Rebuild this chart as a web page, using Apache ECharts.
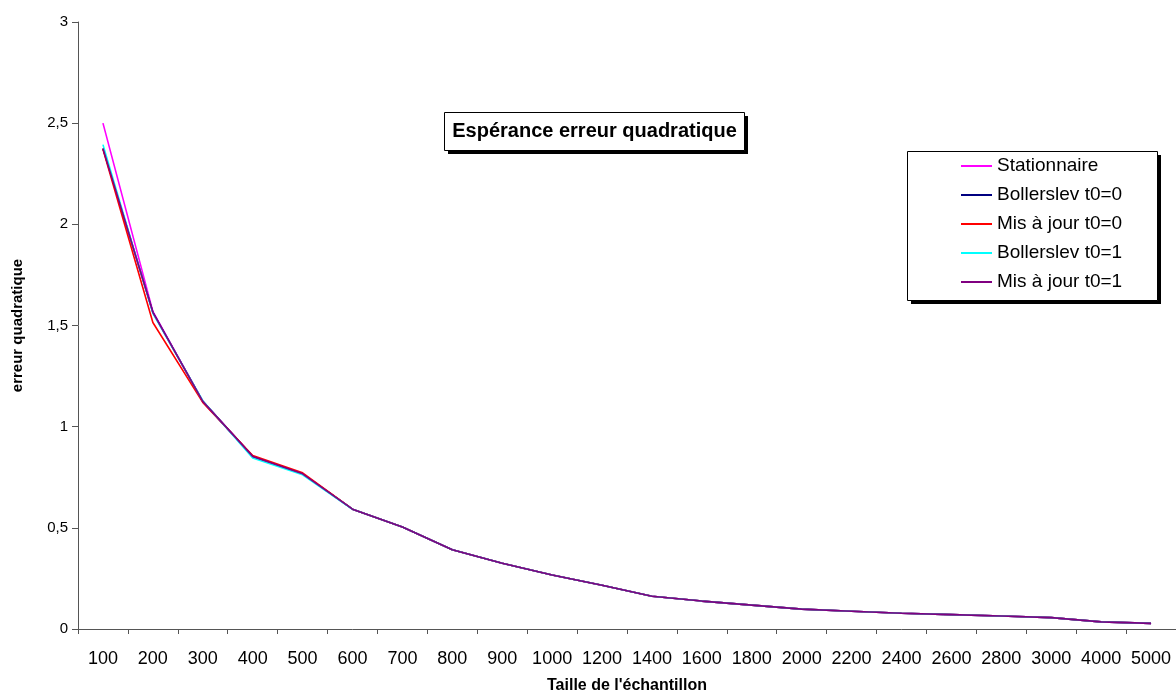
<!DOCTYPE html>
<html>
<head>
<meta charset="utf-8">
<script src="https://cdn.jsdelivr.net/npm/echarts@6/dist/echarts.min.js"></script>
<style>
  html, body { margin: 0; padding: 0; background: #fff; }
  #chart { width: 1176px; height: 699px; }
</style>
</head>
<body>
<div id="chart"></div>
<script>
const categories = ['100', '200', '300', '400', '500', '600', '700', '800', '900', '1000',
  '1200', '1400', '1600', '1800', '2000', '2200', '2400', '2600', '2800', '3000', '4000', '5000']
const yTicks = [0, 0.5, 1, 1.5, 2, 2.5, 3]

const stationnaire = [2.50, 1.57, 1.125, 0.853, 0.767, 0.592, 0.504, 0.392, 0.325, 0.267, 0.216, 0.162, 0.138, 0.118, 0.098, 0.088, 0.078, 0.071, 0.064, 0.056, 0.035, 0.028]
const bollerslev0 = [2.375, 1.565, 1.125, 0.853, 0.767, 0.592, 0.504, 0.392, 0.325, 0.267, 0.216, 0.162, 0.138, 0.118, 0.098, 0.088, 0.078, 0.071, 0.064, 0.056, 0.035, 0.028]
const misAJour0 = [2.371, 1.515, 1.12, 0.857, 0.772, 0.592, 0.504, 0.392, 0.325, 0.267, 0.216, 0.162, 0.138, 0.118, 0.098, 0.088, 0.078, 0.071, 0.064, 0.056, 0.035, 0.028]
const bollerslev1 = [2.394, 1.56, 1.128, 0.845, 0.762, 0.592, 0.504, 0.392, 0.325, 0.267, 0.216, 0.162, 0.138, 0.118, 0.098, 0.088, 0.078, 0.071, 0.064, 0.056, 0.035, 0.028]
const misAJour1 = [2.375, 1.565, 1.125, 0.853, 0.767, 0.592, 0.504, 0.392, 0.325, 0.267, 0.216, 0.162, 0.138, 0.118, 0.098, 0.088, 0.078, 0.071, 0.064, 0.056, 0.035, 0.028]

const font = 'Liberation Sans, Arial, sans-serif'

function line(name, data, color) {
  return {
    name, type: 'line', data,
    symbol: 'none',
    lineStyle: { color, width: 1.6 },
    itemStyle: { color },
    animation: false
  }
}

const myChart = echarts.init(document.getElementById('chart'))
myChart.setOption({
  backgroundColor: '#fff',
  textStyle: { fontFamily: font },
  graphic: [
    // title box with shadow
    { type: 'rect', shape: { x: 448, y: 116, width: 300, height: 38 }, style: { fill: '#000' }, z: 0 },
    { type: 'rect', shape: { x: 444.5, y: 112.5, width: 300, height: 38 }, style: { fill: '#fff', stroke: '#000', lineWidth: 1 }, z: 1 },
    {
      type: 'text', x: 594.5, y: 131.5, z: 2,
      style: { text: 'Espérance erreur quadratique', font: 'bold 20px Liberation Sans, Arial, sans-serif', fill: '#000', align: 'center', verticalAlign: 'middle' }
    },
    // legend box with shadow
    { type: 'rect', shape: { x: 911, y: 155, width: 250, height: 149 }, style: { fill: '#000' }, z: 0 },
    { type: 'rect', shape: { x: 907.5, y: 151.5, width: 250, height: 149 }, style: { fill: '#fff', stroke: '#000', lineWidth: 1 }, z: 1 }
  ],
  legend: {
    orient: 'vertical',
    left: 961, top: 156,
    padding: 0,
    icon: 'rect',
    itemWidth: 31, itemHeight: 2, itemGap: 9,
    z: 5,
    textStyle: { fontFamily: font, fontSize: 19, lineHeight: 20, color: '#000' },
    data: ['Stationnaire', 'Bollerslev t0=0', 'Mis à jour t0=0', 'Bollerslev t0=1', 'Mis à jour t0=1']
  },
  grid: { left: 78, top: 22, width: 1105, height: 614, containLabel: false },
  xAxis: {
    type: 'category',
    data: categories,
    boundaryGap: true,
    name: "Taille de l'échantillon",
    nameLocation: 'middle',
    nameGap: 49,
    nameTextStyle: { fontFamily: font, fontSize: 16, fontWeight: 'bold', color: '#000' },
    axisLine: { lineStyle: { color: '#555', width: 1 } },
    axisTick: { show: true, length: 5, lineStyle: { color: '#555' } },
    axisLabel: { interval: 0, margin: 21, fontSize: 18, color: '#000', fontFamily: font }
  },
  yAxis: {
    type: 'value',
    min: yTicks[0], max: yTicks[yTicks.length - 1], interval: 0.5,
    name: 'erreur quadratique',
    nameLocation: 'middle',
    nameRotate: 90,
    nameGap: 53,
    nameTextStyle: { fontFamily: font, fontSize: 15, fontWeight: 'bold', color: '#000' },
    axisLine: { show: true, lineStyle: { color: '#555', width: 1 } },
    axisTick: { show: true, length: 6, lineStyle: { color: '#555' } },
    splitLine: { show: false },
    axisLabel: {
      margin: 10, fontSize: 15, color: '#000', fontFamily: font,
      formatter: v => String(v).replace('.', ',')
    }
  },
  series: [
    line('Stationnaire', stationnaire, '#ff00ff'),
    line('Bollerslev t0=0', bollerslev0, '#000080'),
    line('Mis à jour t0=0', misAJour0, '#ff0000'),
    line('Bollerslev t0=1', bollerslev1, '#00ffff'),
    line('Mis à jour t0=1', misAJour1, '#800080')
  ]
})
</script>
</body>
</html>
